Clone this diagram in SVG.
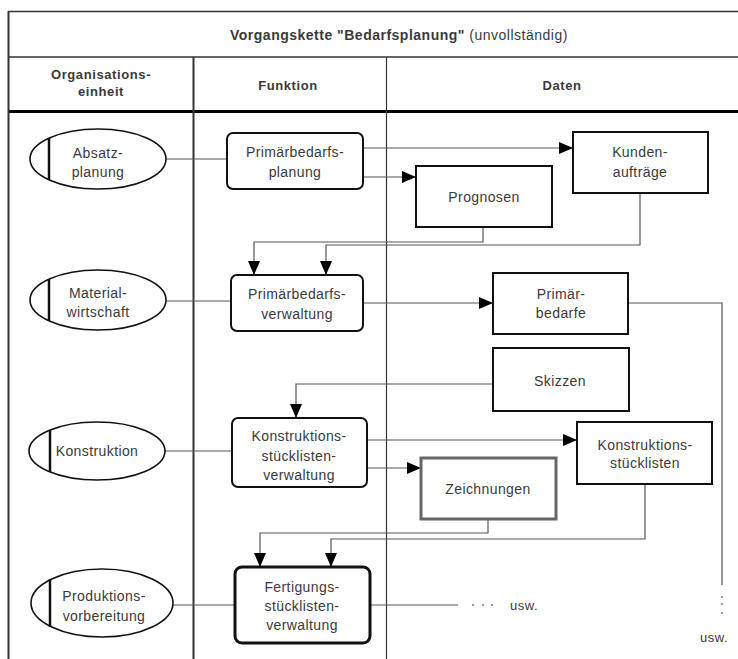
<svg xmlns="http://www.w3.org/2000/svg" width="738" height="659" viewBox="0 0 738 659">
  <defs>
    <marker id="arrow" markerUnits="userSpaceOnUse" markerWidth="14" markerHeight="12" refX="14" refY="6" orient="auto">
      <path d="M0,0 L14,6 L0,12 z" fill="#000"/>
    </marker>
    <style>
      text { font-family: "Liberation Sans", Arial, sans-serif; fill: #3a3a3a; }
      .hdr { font-size: 13px; font-weight: bold; letter-spacing: 0.6px; text-anchor: middle; }
      .lbl { font-size: 14px; letter-spacing: 0.4px; text-anchor: middle; }
      .frame { stroke: #333; fill: none; }
      .org ellipse { fill: #fff; stroke: #111; stroke-width: 1.6; }
      .org line { stroke: #111; stroke-width: 2.5; }
      .fn rect { fill: #fff; stroke: #111; stroke-width: 2; }
      .dat rect { fill: #fff; stroke: #111; stroke-width: 2; }
      .conn { fill: none; stroke: #555; stroke-width: 1.2; }
      .dot { fill: #777; }
    </style>
  </defs>

  <rect width="738" height="659" fill="#fff"/>

  <!-- table frame -->
  <g id="frame">
    <line class="frame" x1="8" y1="11.5" x2="738" y2="11.5" stroke-width="1.5"/>
    <line class="frame" x1="8" y1="57" x2="738" y2="57" stroke-width="1.5"/>
    <line class="frame" x1="8" y1="111.5" x2="738" y2="111.5" style="stroke:#000;stroke-width:3"/>
    <line class="frame" x1="8.5" y1="11" x2="8.5" y2="659" stroke-width="2"/>
    <line class="frame" x1="193.5" y1="57" x2="193.5" y2="659" stroke-width="2"/>
    <line class="frame" x1="386.5" y1="57" x2="386.5" y2="659" stroke-width="1.2"/>
  </g>

  <!-- headings -->
  <g id="headings">
    <text x="230" y="40" font-size="14" letter-spacing="0.5"><tspan font-weight="bold">Vorgangskette "Bedarfsplanung"</tspan><tspan> (unvollständig)</tspan></text>
    <text class="hdr" x="101" y="79">Organisations-</text>
    <text class="hdr" x="101" y="96">einheit</text>
    <text class="hdr" x="288" y="90">Funktion</text>
    <text class="hdr" x="562" y="90">Daten</text>
  </g>

  <!-- connectors -->
  <g id="connectors">
    <path class="conn" d="M166,159 H227"/>
    <path class="conn" d="M363,148 H573" marker-end="url(#arrow)"/>
    <path class="conn" d="M363,177 H416" marker-end="url(#arrow)"/>
    <path class="conn" d="M483,227 V242 H254 V275" marker-end="url(#arrow)"/>
    <path class="conn" d="M640,193 V245 H326 V275" marker-end="url(#arrow)"/>
    <path class="conn" d="M166,301 H231"/>
    <path class="conn" d="M363,303 H493" marker-end="url(#arrow)"/>
    <path class="conn" d="M628,303 H722 V585"/>
    <path class="conn" d="M493,384 H296 V418" marker-end="url(#arrow)"/>
    <path class="conn" d="M164,451 H232"/>
    <path class="conn" d="M367,440 H577" marker-end="url(#arrow)"/>
    <path class="conn" d="M367,468 H421" marker-end="url(#arrow)"/>
    <path class="conn" d="M488,519 V533 H260 V567" marker-end="url(#arrow)"/>
    <path class="conn" d="M645,484 V539 H331 V567" marker-end="url(#arrow)"/>
    <path class="conn" d="M173,605 H235"/>
    <path class="conn" d="M370,605 H458"/>
  </g>

  <!-- continuation marks -->
  <g id="continuation">
    <circle class="dot" cx="473" cy="605" r="1"/>
    <circle class="dot" cx="483" cy="605" r="1"/>
    <circle class="dot" cx="492" cy="605" r="1"/>
    <text x="510" y="610" font-size="13" letter-spacing="0.5">usw.</text>
    <circle class="dot" cx="722" cy="597" r="1"/>
    <circle class="dot" cx="722" cy="604" r="1"/>
    <circle class="dot" cx="722" cy="613" r="1"/>
    <text x="700" y="642" font-size="13" letter-spacing="0.5">usw.</text>
  </g>

  <!-- organisational units -->
  <g id="org-absatzplanung" class="org">
    <ellipse cx="98" cy="159" rx="68" ry="30"/>
    <line x1="49" y1="138" x2="49" y2="180"/>
    <text class="lbl" x="98" y="158">Absatz-</text>
    <text class="lbl" x="98" y="177">planung</text>
  </g>
  <g id="org-materialwirtschaft" class="org">
    <ellipse cx="98" cy="300" rx="68" ry="30"/>
    <line x1="49" y1="279" x2="49" y2="321"/>
    <text class="lbl" x="98" y="298">Material-</text>
    <text class="lbl" x="98" y="317">wirtschaft</text>
  </g>
  <g id="org-konstruktion" class="org">
    <ellipse cx="97" cy="451" rx="68" ry="29"/>
    <line x1="50" y1="430" x2="50" y2="472"/>
    <text class="lbl" x="97" y="456">Konstruktion</text>
  </g>
  <g id="org-produktionsvorbereitung" class="org">
    <ellipse cx="102" cy="603" rx="71" ry="34"/>
    <line x1="50" y1="579" x2="50" y2="627"/>
    <text class="lbl" x="104" y="601">Produktions-</text>
    <text class="lbl" x="104" y="621">vorbereitung</text>
  </g>

  <!-- functions -->
  <g id="fn-primaerbedarfsplanung" class="fn">
    <rect x="227" y="133" width="136" height="56" rx="6"/>
    <text class="lbl" x="295" y="157">Primärbedarfs-</text>
    <text class="lbl" x="295" y="177">planung</text>
  </g>
  <g id="fn-primaerbedarfsverwaltung" class="fn">
    <rect x="231" y="275" width="132" height="56" rx="6"/>
    <text class="lbl" x="297" y="299">Primärbedarfs-</text>
    <text class="lbl" x="297" y="319">verwaltung</text>
  </g>
  <g id="fn-konstruktionsstuecklistenverwaltung" class="fn">
    <rect x="232" y="418" width="135" height="69" rx="6"/>
    <text class="lbl" x="299" y="441">Konstruktions-</text>
    <text class="lbl" x="299" y="461">stücklisten-</text>
    <text class="lbl" x="299" y="480">verwaltung</text>
  </g>
  <g id="fn-fertigungsstuecklistenverwaltung" class="fn">
    <rect x="235" y="567" width="135" height="76" rx="7" style="stroke-width:3"/>
    <text class="lbl" x="302" y="592">Fertigungs-</text>
    <text class="lbl" x="302" y="611">stücklisten-</text>
    <text class="lbl" x="302" y="630">verwaltung</text>
  </g>

  <!-- data -->
  <g id="dat-kundenauftraege" class="dat">
    <rect x="573" y="132" width="135" height="61"/>
    <text class="lbl" x="640" y="157">Kunden-</text>
    <text class="lbl" x="640" y="177">aufträge</text>
  </g>
  <g id="dat-prognosen" class="dat">
    <rect x="416" y="166" width="136" height="61"/>
    <text class="lbl" x="484" y="202">Prognosen</text>
  </g>
  <g id="dat-primaerbedarfe" class="dat">
    <rect x="493" y="273" width="135" height="61"/>
    <text class="lbl" x="561" y="299">Primär-</text>
    <text class="lbl" x="561" y="318">bedarfe</text>
  </g>
  <g id="dat-skizzen" class="dat">
    <rect x="493" y="348" width="136" height="63"/>
    <text class="lbl" x="560" y="386">Skizzen</text>
  </g>
  <g id="dat-konstruktionsstuecklisten" class="dat">
    <rect x="577" y="422" width="135" height="62"/>
    <text class="lbl" x="645" y="450">Konstruktions-</text>
    <text class="lbl" x="645" y="468">stücklisten</text>
  </g>
  <g id="dat-zeichnungen" class="dat">
    <rect x="421" y="458" width="135" height="61" style="stroke:#666;stroke-width:3"/>
    <text class="lbl" x="488" y="494">Zeichnungen</text>
  </g>
</svg>
